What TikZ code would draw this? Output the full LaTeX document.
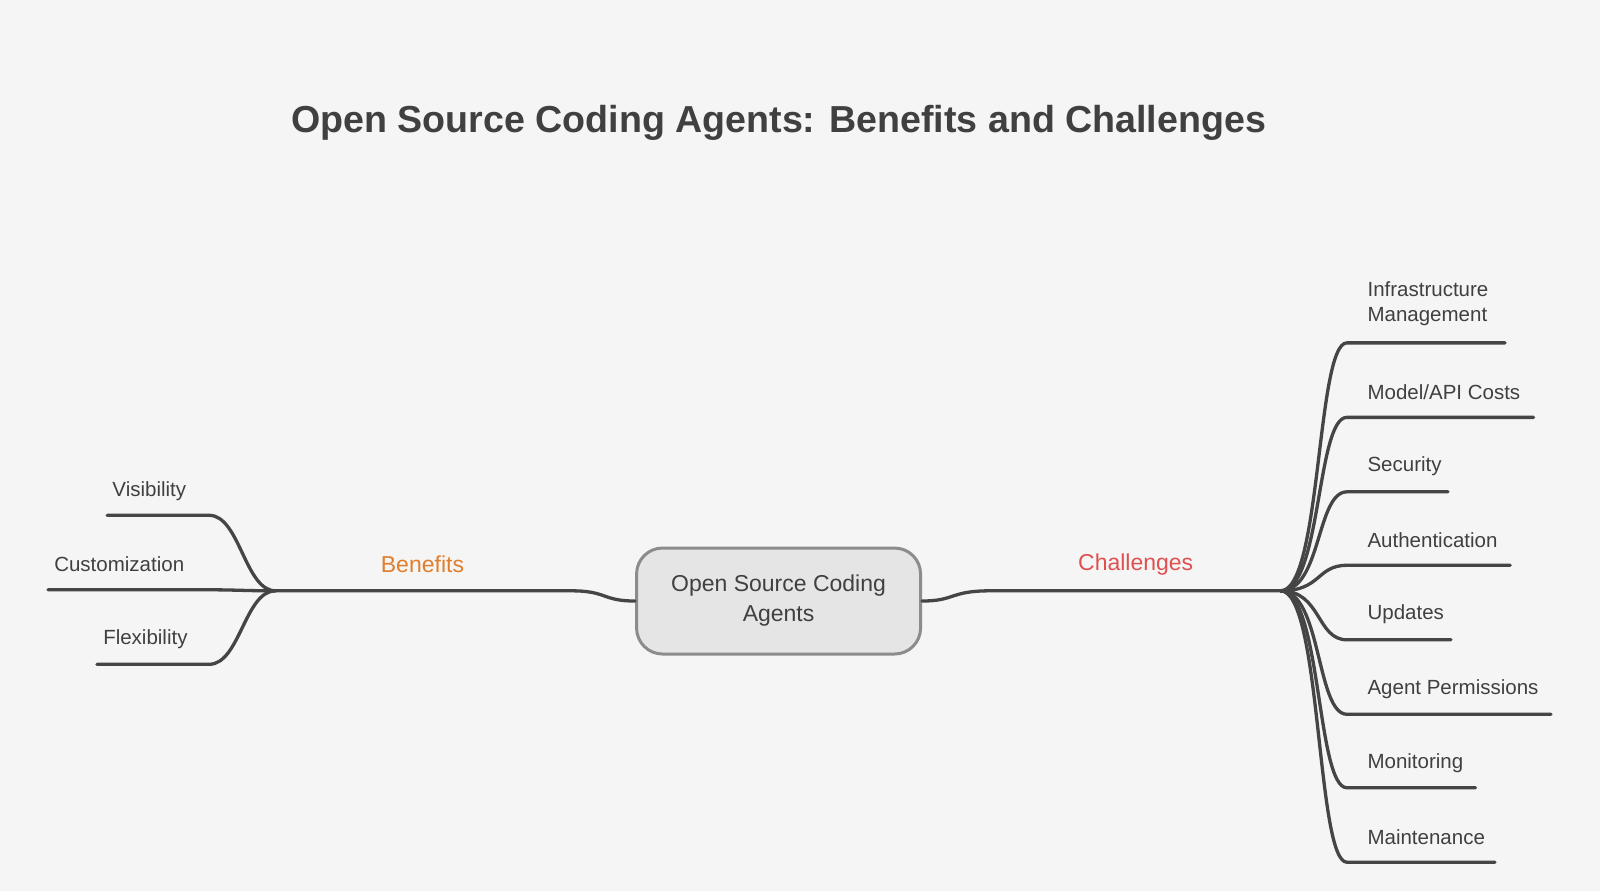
\documentclass[tikz,border=0pt]{standalone}
\usepackage{fontspec}
\setmainfont{Liberation Sans}
\begin{document}
\begin{tikzpicture}[x=1.0204pt,y=-1.0204pt,
  br/.style={draw=lc,line width=3.3pt,line cap=round},
  lbl/.style={text=tc,font=\fontsize{20.5}{25}\selectfont,anchor=west,inner sep=0pt},
  ]
\definecolor{lc}{HTML}{454545}\definecolor{tc}{HTML}{404040}
\definecolor{bg}{HTML}{F5F5F5}\definecolor{orng}{HTML}{E07E2C}\definecolor{rd}{HTML}{E05050}
\fill[bg] (0,0) rectangle (1568,873);
\useasboundingbox (0,0) rectangle (1568,873);
\node[text=tc,font=\bfseries\fontsize{37.6}{44}\selectfont] (title) at (763,120) {Open Source Coding Agents: Benefits and Challenges};
\node[draw=black!45,fill=black!10,line width=3pt,rounded corners=26pt,minimum width=284pt,minimum height=106pt,align=center,text=tc,font=\fontsize{23}{30}\selectfont] (c) at (763,589) {Open Source Coding\\Agents};
\coordinate (hl) at (270,579); \coordinate (hr) at (1255,579);
\draw[br] (c.west) .. controls (590,589) and (595,579) .. (560,579) -- (hl);
\draw[br] (c.east) .. controls (936,589) and (931,579) .. (970,579) -- (hr);
\node[text=orng,font=\fontsize{23}{26}\selectfont] (ben) at (414,553) {Benefits};
\node[text=rd,font=\fontsize{23}{26}\selectfont] (cha) at (1113,553) {Challenges};
\coordinate (v) at (105,505); \coordinate (cu) at (47,578); \coordinate (f) at (95,651);
\draw[br] (hl) .. controls (240,579) and (235,505) .. (205,505) -- (v);
\draw[br] (hl) .. controls (240,579) and (230,578) .. (205,578) -- (cu);
\draw[br] (hl) .. controls (240,579) and (235,651) .. (205,651) -- (f);
\node[lbl] (tv) at (110,481) {Visibility};
\node[lbl] (tcu) at (53,553) {Customization};
\node[lbl] (tf) at (101,626) {Flexibility};
\foreach \y/\e/\n in {336/1475/a,409/1503/b,482/1419/cc,554/1480/d,627/1422/e,700/1520/f,772/1446/g,845/1465/h}{
  \coordinate (\n) at (\e,\y);
  \draw[br] (hr) .. controls (1295,579) and (1290,\y) .. (1320,\y) -- (\n);
}
\node[lbl,align=left] (ta) at (1340,298) {Infrastructure\\Management};
\node[lbl] (tb) at (1340,384) {Model/API Costs};
\node[lbl] (tcc) at (1340,457) {Security};
\node[lbl] (td) at (1340,529) {Authentication};
\node[lbl] (te) at (1340,602) {Updates};
\node[lbl] (tf2) at (1340,675) {Agent Permissions};
\node[lbl] (tg) at (1340,748) {Monitoring};
\node[lbl] (th) at (1340,820) {Maintenance};
\end{tikzpicture}
\end{document}
